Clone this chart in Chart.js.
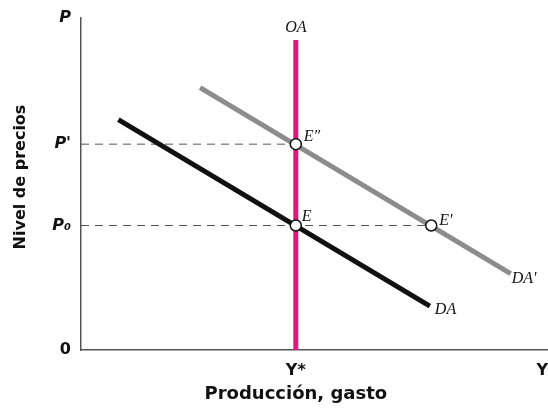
<!DOCTYPE html>
<html>
<head>
<meta charset="utf-8">
<title>OA / DA</title>
<script src="https://cdn.jsdelivr.net/npm/chart.js@4.4.1/dist/chart.umd.min.js"></script>
<style>
  html, body { margin: 0; padding: 0; background: #fff; }
  #wrap { width: 548px; height: 414px; }
</style>
</head>
<body>
<div id="wrap"><canvas id="chart" width="548" height="414"></canvas></div>
<script>
'use strict';

// axis ticks (data units 0..100 on both axes)
const priceTicks = [0, 37.5, 62, 100];
const priceLabels = ['0', 'P\u2080', "P'", 'P'];
const outputTicks = [0, 46, 100];
const outputLabels = ['', 'Y*', 'Y'];

// supply curve OA (vertical at Y*)
const oaX = [46, 46];
const oaY = [0, 93.4];

// demand curves
const daX = [8, 74.7];
const daY = [69.4, 13.2];
const da2X = [25.5, 92];
const da2Y = [79, 23];

// equilibrium points
const eqNames = ['E\u2033', 'E', "E'"];
const eqX = [46, 46, 75];
const eqY = [62, 37.5, 37.5];

const SANS = '"DejaVu Sans", "Open Sans", sans-serif';
const SERIF = '"Liberation Serif", "DejaVu Serif", serif';

function pts(xs, ys) {
    return xs.map((x, i) => ({ x: x, y: ys[i] }));
}

// dashed guides from the price axis to each equilibrium
const guideP1 = pts([0, eqX[0]], [eqY[0], eqY[0]]);
const guideP0 = pts([0, eqX[2]], [eqY[2], eqY[2]]);

const labelPlugin = {
    id: 'curveLabels',
    afterDatasetsDraw(chart) {
        const ctx = chart.ctx;
        const xs = chart.scales.x;
        const ys = chart.scales.y;
        const px = v => xs.getPixelForValue(v);
        const py = v => ys.getPixelForValue(v);

        ctx.save();
        ctx.fillStyle = '#111';
        ctx.font = 'italic 16px ' + SERIF;
        ctx.textBaseline = 'middle';

        ctx.textAlign = 'center';
        ctx.fillText('OA', px(oaX[1]), py(oaY[1]) - 12);

        ctx.textAlign = 'left';
        ctx.fillText(eqNames[0], px(eqX[0]) + 8, py(eqY[0]) - 7);
        ctx.fillText(eqNames[1], px(eqX[1]) + 6, py(eqY[1]) - 9);
        ctx.fillText(eqNames[2], px(eqX[2]) + 8, py(eqY[2]) - 5);
        ctx.fillText("DA'", px(da2X[1]) + 1, py(da2Y[1]) + 5);
        ctx.fillText('DA', px(daX[1]) + 5, py(daY[1]) + 4);

        // axis titles
        ctx.textAlign = 'center';
        ctx.font = 'bold 18px ' + SANS;
        ctx.fillText('Producción, gasto', px(outputTicks[1]), 394);

        ctx.font = 'bold 16px ' + SANS;
        ctx.translate(21, 177);
        ctx.rotate(-Math.PI / 2);
        ctx.fillText('Nivel de precios', 0, 0);
        ctx.restore();
    }
};

new Chart(document.getElementById('chart'), {
    type: 'scatter',
    data: {
        datasets: [
            {
                label: 'equilibrios',
                data: pts(eqX, eqY),
                showLine: false,
                pointRadius: 5.5,
                pointBackgroundColor: '#fff',
                pointBorderColor: '#111',
                pointBorderWidth: 1.5,
                order: 0
            },
            {
                label: 'OA',
                data: pts(oaX, oaY),
                showLine: true,
                borderColor: '#e0177f',
                borderWidth: 5,
                pointRadius: 0,
                order: 1
            },
            {
                label: 'DA',
                data: pts(daX, daY),
                showLine: true,
                borderColor: '#111',
                borderWidth: 5,
                pointRadius: 0,
                order: 2
            },
            {
                label: "DA'",
                data: pts(da2X, da2Y),
                showLine: true,
                borderColor: '#8c8c8c',
                borderWidth: 5,
                pointRadius: 0,
                order: 3
            },
            {
                label: "P'",
                data: guideP1,
                showLine: true,
                borderColor: '#555',
                borderWidth: 1,
                borderDash: [8, 6],
                pointRadius: 0,
                order: 4
            },
            {
                label: 'P0',
                data: guideP0,
                showLine: true,
                borderColor: '#555',
                borderWidth: 1,
                borderDash: [8, 6],
                pointRadius: 0,
                order: 4
            }
        ]
    },
    options: {
        responsive: false,
        animation: false,
        layout: { autoPadding: false, padding: { top: 18, right: 0, bottom: 0, left: 0 } },
        plugins: {
            legend: { display: false },
            tooltip: { enabled: false }
        },
        scales: {
            x: {
                type: 'linear',
                min: 0,
                max: 100,
                grid: { display: false, drawTicks: true, tickLength: 11 },
                border: { display: true, color: '#555', width: 1.5 },
                afterBuildTicks: (scale) => {
                    scale.ticks = outputTicks.map(v => ({ value: v }));
                },
                afterFit: (scale) => {
                    scale.height = 64;
                },
                ticks: {
                    autoSkip: false,
                    maxRotation: 0,
                    align: 'inner',
                    padding: 0,
                    color: '#111',
                    font: { family: SANS, size: 16, weight: 'bold' },
                    callback: (v, i) => outputLabels[i]
                }
            },
            y: {
                type: 'linear',
                min: 0,
                max: 100,
                grid: { display: false, drawTicks: true, tickLength: 10 },
                border: { display: true, color: '#555', width: 1.5 },
                afterBuildTicks: (scale) => {
                    scale.ticks = priceTicks.map(v => ({ value: v }));
                },
                afterFit: (scale) => {
                    scale.width = 81;
                    scale.paddingTop = 0;
                    scale.paddingBottom = 0;
                },
                ticks: {
                    autoSkip: false,
                    padding: 0,
                    color: '#111',
                    font: (c) => ({
                        family: SANS,
                        size: 16,
                        weight: 'bold',
                        style: priceLabels[c.index] === '0' ? 'normal' : 'italic'
                    }),
                    callback: (v, i) => priceLabels[i]
                }
            }
        }
    },
    plugins: [labelPlugin]
});
</script>
</body>
</html>
